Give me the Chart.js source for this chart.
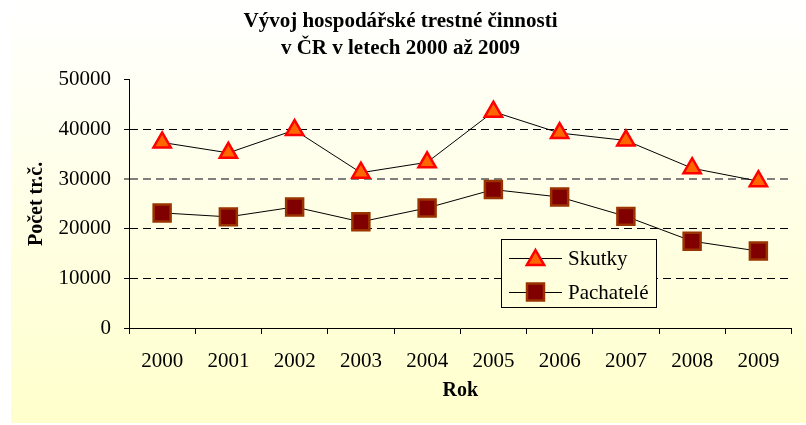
<!DOCTYPE html>
<html lang="cs">
<head>
<meta charset="utf-8">
<title>Vývoj hospodářské trestné činnosti</title>
<script src="https://cdn.jsdelivr.net/npm/chart.js@4"></script>
<style>
    html, body { margin: 0; padding: 0; background: #ffffff; }
    canvas { display: block; }
</style>
</head>
<body>
<canvas id="crimeChart" width="806" height="425"></canvas>
<script>
// Chart data
const years = ['2000', '2001', '2002', '2003', '2004', '2005', '2006', '2007', '2008', '2009'];
const skutky = [37400, 35300, 39900, 31300, 33400, 43600, 39300, 37800, 32200, 29600];
const pachatele = [23200, 22400, 24400, 21400, 24200, 27900, 26400, 22500, 17500, 15500];
const yTicks = [0, 10000, 20000, 30000, 40000, 50000];

const FONT = '"Liberation Serif", "Times New Roman", serif';
let bgGradient = null;

function getGradient(ctx) {
    if (!bgGradient) {
        bgGradient = ctx.createLinearGradient(0, 0, 0, 423);
        bgGradient.addColorStop(0, '#ffffff');
        bgGradient.addColorStop(1, '#ffffcc');
    }
    return bgGradient;
}

// Fill the chart frame with the white-to-yellow gradient
const backgroundPlugin = {
    id: 'frameBackground',
    beforeDraw(chart) {
        const ctx = chart.ctx;
        ctx.save();
        ctx.fillStyle = getGradient(ctx);
        ctx.fillRect(11, 0, 795, 423);
        ctx.restore();
    },
};

function drawMarker(ctx, style, x, y, r, fill, stroke, width) {
    ctx.beginPath();
    if (style === 'triangle') {
        ctx.moveTo(x, y - r);
        ctx.lineTo(x + r * 0.866, y + r / 2);
        ctx.lineTo(x - r * 0.866, y + r / 2);
        ctx.closePath();
    } else {
        const s = r * Math.SQRT1_2;
        ctx.rect(x - s, y - s, 2 * s, 2 * s);
    }
    ctx.fillStyle = fill;
    ctx.fill();
    ctx.lineWidth = width;
    ctx.strokeStyle = stroke;
    ctx.stroke();
}

// Legend box sitting inside the plot, like the original
const boxLegendPlugin = {
    id: 'boxLegend',
    afterDraw(chart) {
        const ctx = chart.ctx;
        const left = 501.5, top = 239.5, w = 155, h = 68;
        ctx.save();
        ctx.fillStyle = getGradient(ctx);
        ctx.fillRect(left, top, w, h);
        ctx.lineWidth = 1;
        ctx.strokeStyle = '#000000';
        ctx.strokeRect(left, top, w, h);

        const rows = [258, 292];
        chart.data.datasets.forEach((ds, i) => {
            const y = rows[i];
            ctx.beginPath();
            ctx.moveTo(509, y + 0.5);
            ctx.lineTo(562, y + 0.5);
            ctx.lineWidth = 1;
            ctx.strokeStyle = '#000000';
            ctx.stroke();
            drawMarker(ctx, ds.pointStyle, 535.5, y + (ds.pointStyle === 'triangle' ? 2 : 0),
                ds.pointRadius, ds.pointBackgroundColor, ds.pointBorderColor, ds.pointBorderWidth);
            ctx.fillStyle = '#000000';
            ctx.font = '21px ' + FONT;
            ctx.textBaseline = 'middle';
            ctx.textAlign = 'left';
            ctx.fillText(ds.label, 568, y + 1);
        });
        ctx.restore();
    },
};

const ctx = document.getElementById('crimeChart').getContext('2d');
new Chart(ctx, {
    type: 'line',
    data: {
        labels: years,
        datasets: [
            {
                label: 'Skutky',
                data: skutky,
                borderColor: '#000000',
                borderWidth: 1,
                pointStyle: 'triangle',
                pointRadius: 10,
                pointHoverRadius: 10,
                pointBackgroundColor: '#ff6600',
                pointBorderColor: '#ff0000',
                pointBorderWidth: 2.5,
                tension: 0,
            },
            {
                label: 'Pachatelé',
                data: pachatele,
                borderColor: '#000000',
                borderWidth: 1,
                pointStyle: 'rect',
                pointRadius: 12,
                pointHoverRadius: 12,
                pointBackgroundColor: '#800000',
                pointBorderColor: '#993300',
                pointBorderWidth: 2.5,
                tension: 0,
            },
        ],
    },
    options: {
        responsive: false,
        animation: false,
        layout: {
            padding: { left: 0, right: 5, top: 0, bottom: 17 },
        },
        plugins: {
            legend: { display: false },
            tooltip: { enabled: false },
            title: {
                display: true,
                text: ['Vývoj hospodářské trestné činnosti', 'v ČR v letech 2000 až 2009'],
                color: '#000000',
                font: { family: FONT, size: 21, weight: 'bold', lineHeight: 1.27 },
                padding: { top: 8.5, bottom: 18.1 },
            },
        },
        scales: {
            x: {
                offset: true,
                afterFit(scale) {
                    scale.height = 80;
                },
                grid: {
                    offset: true,
                    drawOnChartArea: false,
                    tickLength: 6,
                    tickColor: '#000000',
                },
                border: { color: '#000000', width: 1 },
                ticks: {
                    color: '#000000',
                    font: { family: FONT, size: 21 },
                    padding: 15,
                },
                title: {
                    display: true,
                    text: 'Rok',
                    color: '#000000',
                    font: { family: FONT, size: 20, weight: 'bold' },
                    padding: { top: 0, bottom: 5 },
                },
            },
            y: {
                min: 0,
                max: 50000,
                afterFit(scale) {
                    scale.width = 129;
                },
                afterBuildTicks(scale) {
                    scale.ticks = yTicks.map(v => ({ value: v }));
                },
                grid: {
                    color: c => {
                        const v = c.tick ? c.tick.value : null;
                        if (v === 0 || v === 50000) return 'rgba(0,0,0,0)';
                        return v === 30000 ? '#7f7f7f' : '#000000';
                    },
                    lineWidth: c => (c.tick && c.tick.value === 30000 ? 2 : 1),
                    tickLength: 5,
                    tickColor: '#000000',
                    tickWidth: 1,
                },
                border: { color: '#000000', width: 1, dash: [8, 5] },
                ticks: {
                    color: '#000000',
                    font: { family: FONT, size: 21 },
                    padding: 13,
                    callback: value => String(value),
                },
                title: {
                    display: true,
                    text: 'Počet tr.č.',
                    color: '#000000',
                    font: { family: FONT, size: 20, weight: 'bold' },
                    padding: { top: 25, bottom: 0 },
                },
            },
        },
    },
    plugins: [backgroundPlugin, boxLegendPlugin],
});
</script>
</body>
</html>
